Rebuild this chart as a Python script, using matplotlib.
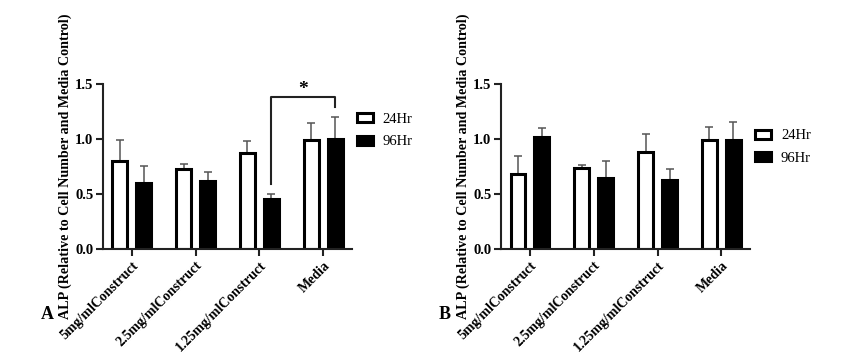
import matplotlib
matplotlib.use("Agg")
import matplotlib.pyplot as plt
import numpy as np

categories = ["5mg/mlConstruct", "2.5mg/mlConstruct", "1.25mg/mlConstruct", "Media"]
series = ["24Hr", "96Hr"]

a_24 = [0.80, 0.725, 0.87, 0.99]
a_24_err = [0.19, 0.045, 0.115, 0.155]
a_96 = [0.60, 0.615, 0.455, 1.00]
a_96_err = [0.155, 0.085, 0.045, 0.20]

b_24 = [0.68, 0.735, 0.88, 0.99]
b_24_err = [0.165, 0.025, 0.17, 0.12]
b_96 = [1.02, 0.645, 0.63, 0.99]
b_96_err = [0.08, 0.155, 0.10, 0.165]

yticks = [0.0, 0.5, 1.0, 1.5]
ylabel = "ALP (Relative to Cell Number and Media Control)"

plt.rcParams['font.family'] = ['Liberation Serif', 'DejaVu Serif']

fig = plt.figure(figsize=(8.67, 3.64), dpi=100)

def panel(rect, v24, e24, v96, e96, letter, legend_pos, sig=None):
    ax = fig.add_axes(rect)
    x = np.arange(len(categories))
    off = 0.1875
    w = 0.23
    ax.bar(x - off, v24, w, color='white', edgecolor='black', linewidth=2.2, zorder=2, label=series[0])
    ax.bar(x + off, v96, w, color='black', edgecolor='black', linewidth=2.2, zorder=2, label=series[1])
    ax.errorbar(x - off, v24, yerr=[np.zeros(len(v24)), e24], fmt='none', ecolor='#555555',
                elinewidth=1.1, capsize=3, capthick=1.1, zorder=1)
    ax.errorbar(x + off, v96, yerr=[np.zeros(len(v96)), e96], fmt='none', ecolor='#555555',
                elinewidth=1.1, capsize=3, capthick=1.1, zorder=1)
    ax.set_xlim(-0.45, 3.45)
    ax.set_ylim(0, 1.5)
    ax.set_yticks(yticks)
    ax.set_yticklabels([f"{t:.1f}" for t in yticks], fontsize=10.5, fontweight='bold')
    ax.set_xticks(x)
    ax.set_xticklabels(categories, rotation=45, ha='right', rotation_mode='anchor',
                       fontsize=10, fontweight='bold')
    for s in ['top', 'right']:
        ax.spines[s].set_visible(False)
    for s in ['left', 'bottom']:
        ax.spines[s].set_linewidth(1.5)
        ax.spines[s].set_color('#222222')
    ax.tick_params(axis='both', width=1.5, length=5, color='#222222', pad=2)
    ax.set_ylabel(ylabel, fontsize=10.2, fontweight='bold', labelpad=2)
    ax.yaxis.set_label_coords(-0.125, 0.5)
    ax.text(-0.225, -0.40, letter, transform=ax.transAxes, fontsize=13, fontweight='bold',
            ha='center', va='center')
    leg = ax.legend(loc='upper left', bbox_to_anchor=legend_pos, frameon=False, fontsize=10.5,
                    handlelength=1.1, handleheight=0.55, handletextpad=0.7, labelspacing=0.65,
                    borderaxespad=0)
    if sig is not None:
        i, j, y0a, y0b, ytop = sig
        ax.plot([i + off, i + off, j + off, j + off], [y0a, ytop, ytop, y0b], color='#222222',
                lw=1.5, clip_on=False)
        ax.text((i + j) / 2 + off, 1.455, "*", ha='center', va='center', fontsize=14,
                fontweight='bold')
    return ax

axA = panel([0.1188, 0.316, 0.2872, 0.453], a_24, a_24_err, a_96, a_96_err, "A",
            (0.995, 0.86), sig=(2, 3, 0.59, 1.29, 1.38))
axB = panel([0.578, 0.316, 0.2872, 0.453], b_24, b_24_err, b_96, b_96_err, "B",
            (0.995, 0.76))

fig.savefig("out.png", dpi=100)
